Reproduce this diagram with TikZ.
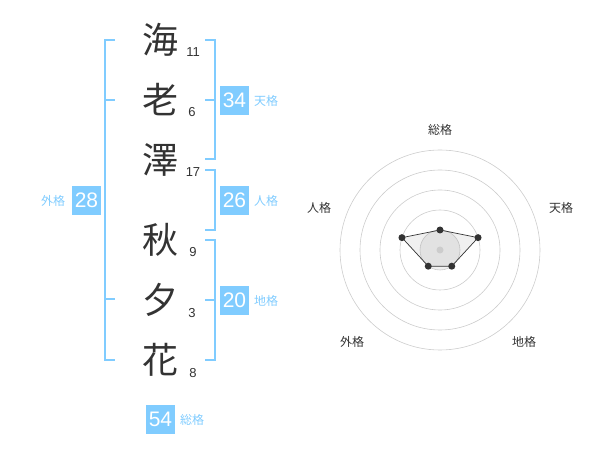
\documentclass[tikz,border=0pt]{standalone}
\usepackage{fontspec}
\setmainfont{Noto Sans CJK JP}
\newfontfamily\numfont{Liberation Sans}
\usetikzlibrary{positioning}
\definecolor{kakublue}{HTML}{80CCFF}
\definecolor{inkgray}{HTML}{333333}
\definecolor{ringgray}{HTML}{CCCCCC}

\begin{document}
\begin{tikzpicture}[
  x=1pt, y=-1pt,
  every node/.style={inner sep=0pt, outer sep=0pt},
  kanji/.style={font=\fontsize{36}{36}\selectfont, text=inkgray},
  strokes/.style={font=\numfont\fontsize{13}{13}\selectfont, text=inkgray},
  kakubox/.style={fill=kakublue, text=white, minimum width=29pt, minimum height=29pt,
    font=\numfont\fontsize{21}{21}\selectfont},
  kakulabel/.style={text=kakublue, font=\fontsize{12}{12}\selectfont},
  kakuline/.style={draw=kakublue, line width=2pt},
  ring/.style={draw=ringgray, line width=0.6pt},
  axislabel/.style={text=inkgray, font=\fontsize{12}{12}\selectfont},
  dot/.style={circle, fill=inkgray, minimum size=7pt},
]
\useasboundingbox (0,0) rectangle (600,470);

% name characters and stroke counts
\node[kanji] (c1) at (160,40)  {海};
\node[kanji] (c2) at (160,100) {老};
\node[kanji] (c3) at (160,160) {澤};
\node[kanji] (c4) at (160,240) {秋};
\node[kanji] (c5) at (160,300) {夕};
\node[kanji] (c6) at (160,360) {花};
\node[strokes] (n1) at (193,52)  {11};
\node[strokes] (n2) at (192,112) {6};
\node[strokes] (n3) at (193,172) {17};
\node[strokes] (n4) at (193,252) {9};
\node[strokes] (n5) at (192,313) {3};
\node[strokes] (n6) at (193,373) {8};

% brackets
\draw[kakuline] (115,40) -- (105,40) -- (105,360) -- (115,360);
\draw[kakuline] (105,100) -- (115,100);
\draw[kakuline] (105,299) -- (115,299);
\draw[kakuline] (205,40) -- (215,40) -- (215,159) -- (205,159);
\draw[kakuline] (215,100) -- (205,100);
\draw[kakuline] (205,170) -- (215,170) -- (215,230) -- (205,230);
\draw[kakuline] (205,240) -- (215,240) -- (215,360) -- (205,360);
\draw[kakuline] (215,300) -- (205,300);

% totals
\node[kakubox] (ten) at (234.5,100.5) {34};
\node[kakulabel, right=5pt of ten] (tenL) {天格};
\node[kakubox] (jin) at (234.5,200.5) {26};
\node[kakulabel, right=5pt of jin] (jinL) {人格};
\node[kakubox] (chi) at (234.5,300.5) {20};
\node[kakulabel, right=5pt of chi] (chiL) {地格};
\node[kakubox] (gai) at (86.5,200.5) {28};
\node[kakulabel, left=7pt of gai] (gaiL) {外格};
\node[kakubox] (sou) at (160.5,419.5) {54};
\node[kakulabel, right=5pt of sou] (souL) {総格};

% radar chart
\begin{scope}[shift={(440,250)}, y=1pt]
  \foreach \r in {100,80,60,40}
    \draw[ring] (0,0) circle (\r);
  \draw[ring, fill=gray!12] (0,0) circle (20);
  \coordinate (pSou) at (90:20);
  \coordinate (pTen) at (18:40);
  \coordinate (pChi) at (-54:20);
  \coordinate (pGai) at (-126:20);
  \coordinate (pJin) at (162:40);
  \fill[gray, fill opacity=0.12] (pSou) -- (pTen) -- (pChi) -- (pGai) -- (pJin) -- cycle;
  \draw[inkgray, line width=0.7pt] (pSou) -- (pTen) -- (pChi) -- (pGai) -- (pJin) -- cycle;
  \fill[ringgray] (0,0) circle (3.5);
  \foreach \p in {pSou,pTen,pChi,pGai,pJin}
    \node[dot] at (\p) {};
  \node[axislabel] (aSou) at (0,120)    {総格};
  \node[axislabel] (aTen) at (121,42)   {天格};
  \node[axislabel] (aChi) at (84,-92)   {地格};
  \node[axislabel] (aGai) at (-88,-92)  {外格};
  \node[axislabel] (aJin) at (-121,42)  {人格};
\end{scope}
\end{tikzpicture}
\end{document}
